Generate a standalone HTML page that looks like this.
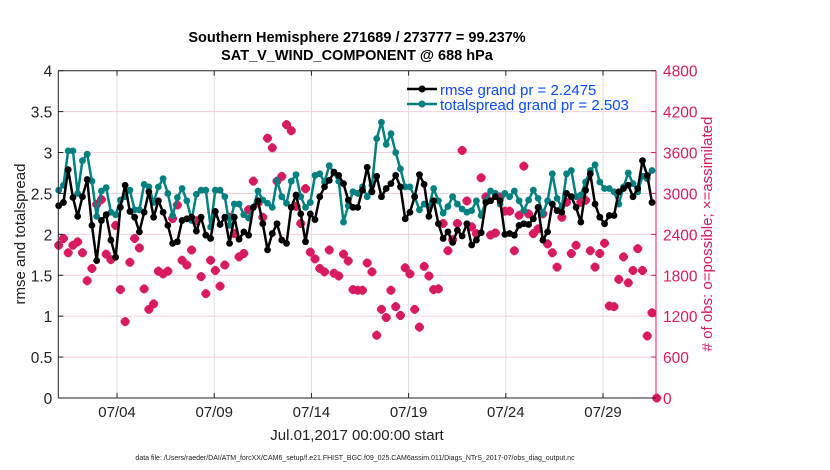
<!DOCTYPE html>
<html><head><meta charset="utf-8"><style>
body{margin:0;background:#fff;}
svg{display:block;font-family:"Liberation Sans",sans-serif;}
</style></head><body>
<svg id="chart" width="830" height="470" viewBox="0 0 830 470">
<g id="grid"></g>
<g id="series"></g>
<g id="axes"></g>
<text x="357" y="42" text-anchor="middle" font-size="14.5" font-weight="bold">Southern Hemisphere 271689 / 273777 = 99.237%</text>
<text x="357" y="60" text-anchor="middle" font-size="14.5" font-weight="bold">SAT_V_WIND_COMPONENT @ 688 hPa</text>
<text transform="translate(25,234) rotate(-90)" text-anchor="middle" font-size="15" fill="#222">rmse and totalspread</text>
<text transform="translate(712,234) rotate(-90)" text-anchor="middle" font-size="15" fill="#d81b60"># of obs: o=possible; ×=assimilated</text>
<text x="357" y="440" text-anchor="middle" font-size="15" fill="#222">Jul.01,2017 00:00:00 start</text>
<text x="355" y="460" text-anchor="middle" font-size="7" fill="#222">data file: /Users/raeder/DAI/ATM_forcXX/CAM6_setup/f.e21.FHIST_BGC.f09_025.CAM6assim.011/Diags_NTrS_2017-07/obs_diag_output.nc</text>
<g>
<g>
<line x1="407" y1="89" x2="437" y2="89" stroke="#000" stroke-width="2.5"/><circle cx="422" cy="89" r="3.5" fill="#000"/>
<text x="440" y="95" font-size="15" fill="#0a4cff">rmse grand pr = 2.2475</text></g>
<g>
<line x1="407" y1="104" x2="437" y2="104" stroke="#008080" stroke-width="2.5"/><circle cx="422" cy="104" r="3.5" fill="#008080"/>
<text x="440" y="110" font-size="15" fill="#0a4cff">totalspread grand pr = 2.503</text></g>
</g>
</svg>
<script>
const leftTicks=[0,0.5,1,1.5,2,2.5,3,3.5,4];
const rightTicks=[0,600,1200,1800,2400,3000,3600,4200,4800];
const dateTicks=["07/04","07/09","07/14","07/19","07/24","07/29"];
const dateTickDays=[3,8,13,18,23,28];
const totalspread=[2.54,2.60,3.02,3.02,2.50,2.90,2.98,2.65,2.22,2.53,2.57,2.27,2.24,2.42,2.46,2.54,2.30,2.30,2.61,2.58,2.39,2.58,2.68,2.50,2.23,2.45,2.56,2.41,2.17,2.49,2.54,2.54,
2.09,2.54,2.54,2.46,2.11,2.37,2.37,2.24,2.20,2.33,2.53,2.42,2.38,2.33,2.66,2.46,2.38,2.65,2.73,2.46,2.33,2.39,2.72,2.74,2.64,2.84,2.75,2.65,2.15,2.35,2.52,
2.50,2.58,2.46,2.60,3.17,3.37,3.10,3.23,3.00,2.80,2.58,2.58,2.46,2.30,2.37,2.34,2.56,2.41,2.26,2.34,2.46,2.37,2.31,2.27,2.29,2.41,2.23,2.41,2.53,2.50,2.37,2.50,
2.46,2.53,2.41,2.29,2.42,2.54,2.44,2.25,2.41,2.74,2.44,2.33,2.74,2.78,2.46,2.48,2.64,2.78,2.85,2.64,2.56,2.56,2.52,2.37,2.58,2.75,2.62,2.52,2.71,2.68,2.78];
const rmse=[2.35,2.39,2.79,2.45,2.22,2.46,2.67,2.11,1.68,2.17,2.24,1.93,1.72,2.33,2.60,2.28,2.21,2.03,2.27,2.52,2.21,2.41,2.27,2.11,1.89,1.91,2.17,2.19,2.21,2.04,2.21,1.99,
1.95,2.28,2.12,2.21,1.89,2.21,1.94,2.03,1.99,2.33,2.41,2.13,1.81,2.01,2.13,1.93,1.89,2.33,2.48,2.25,1.91,2.25,2.18,2.46,2.58,2.66,2.76,2.72,2.62,2.42,2.33,
2.33,2.54,2.82,2.52,2.71,2.46,2.56,2.62,2.72,2.58,2.19,2.27,2.46,2.73,2.61,2.22,2.41,2.13,1.95,2.03,1.90,2.05,1.98,2.13,1.87,1.93,2.02,2.39,2.41,2.46,2.41,2.00,
2.01,1.99,2.11,2.13,2.12,2.19,2.33,1.93,2.03,2.37,2.29,2.27,2.50,2.46,2.33,2.15,2.54,2.74,2.37,2.21,2.13,2.23,2.23,2.52,2.56,2.60,2.46,2.56,2.90,2.72,2.39];
const obsCount=[2240,2340,2130,2240,2290,2130,1720,1900,2840,2910,2110,2030,2530,1590,1120,1990,2340,2200,1600,1300,1380,1860,1820,1860,2630,2830,2020,1950,2170,2600,1780,1530,
2020,1870,1640,1950,2650,2410,2070,2120,2760,3180,2860,2650,3810,3670,3180,3250,4010,3920,2810,2560,3070,2140,2040,1900,1850,2170,1830,1790,2110,2010,1590,
1580,1580,1980,1850,920,1300,1180,1580,1340,1210,1910,1820,1300,1040,1930,1790,1590,1600,2560,2160,2320,2560,3630,2890,2510,2410,3230,2950,2390,2420,2950,2740,
2740,2160,2680,3400,2700,2410,2480,2700,2260,2130,1920,2650,2870,2120,2240,2870,2900,2160,1920,2120,2270,1350,1340,1740,2070,1690,1870,2190,1870,910,1250,0];

const NS="http://www.w3.org/2000/svg";
const PL=58.3,PR=656,PT=70.7,PB=398;
const yL=v=>PB-(v/4)*(PB-PT);
const yR=v=>PB-(v/4800)*(PB-PT);
const xDay=d=>58.7+d*19.44;
const xIdx=i=>58.7+i*(652-58.7)/(rmse.length-1);
function mk(tag,attrs,parent){const e=document.createElementNS(NS,tag);for(const k in attrs)e.setAttribute(k,attrs[k]);parent.appendChild(e);return e;}
const grid=document.getElementById('grid'),axes=document.getElementById('axes'),series=document.getElementById('series');
mk('rect',{x:PL,y:PT,width:PR-PL,height:PB-PT,fill:'#fff'},grid);
leftTicks.forEach(t=>{
  if(t>0&&t<4){const g=mk('line',{x1:PL,x2:PR,y1:yL(t),y2:yL(t),stroke:'#f3cfdc','stroke-width':1},grid);
  
  }
  mk('line',{x1:PL,x2:PL+5,y1:yL(t),y2:yL(t),stroke:'#222'},axes);
  const tx=mk('text',{x:PL-6,y:yL(t)+6,'text-anchor':'end','font-size':15.5,fill:'#222'},axes);tx.textContent=t;
  
  
});
rightTicks.forEach(t=>{
  mk('line',{x1:PR-5,x2:PR,y1:yR(t),y2:yR(t),stroke:'#d81b60'},axes);
  const tx=mk('text',{x:PR+7,y:yR(t)+6,'font-size':15.5,fill:'#d81b60'},axes);tx.textContent=t;
  
  
});
dateTicks.forEach((lab,k)=>{
  const x=xDay(dateTickDays[k]);
  const g=mk('line',{x1:x,x2:x,y1:PT,y2:PB,stroke:'#dcdcdc'},grid);
  
  
  mk('line',{x1:x,x2:x,y1:PB,y2:PB-5,stroke:'#222'},axes);
  mk('line',{x1:x,x2:x,y1:PT,y2:PT+5,stroke:'#222'},axes);
  const tx=mk('text',{x:x,y:417,'text-anchor':'middle','font-size':15,fill:'#222'},axes);tx.textContent=lab;
  
  
});
mk('line',{x1:PL,x2:PR,y1:PT,y2:PT,stroke:'#222'},axes);
mk('line',{x1:PL,x2:PR,y1:PB,y2:PB,stroke:'#222'},axes);
mk('line',{x1:PL,x2:PL,y1:PT,y2:PB,stroke:'#222'},axes);
mk('line',{x1:PR,x2:PR,y1:PT,y2:PB,stroke:'#d81b60'},axes);

const og=mk('g',{},series);


obsCount.forEach((v,i)=>{
  const x=xIdx(i),y=yR(v);
  const p=mk('path',{d:`M${x-4.5},${y}H${x+4.5}M${x},${y-4.5}V${y+4.5}M${x-3},${y-3}L${x+3},${y+3}M${x-3},${y+3}L${x+3},${y-3}`,stroke:'#d81b60','stroke-width':3},og);
  
  
});
function line(arr,color,name){
  const g=mk('g',{},series);
  
  
  const pl=mk('polyline',{points:arr.map((v,i)=>xIdx(i)+','+yL(v)).join(' '),fill:'none',stroke:color,'stroke-width':2.5,'stroke-linejoin':'round'},g);
  
  
  arr.forEach((v,i)=>{
    const c=mk('circle',{cx:xIdx(i),cy:yL(v),r:3.4,fill:color},g);
    
    
  });
}
line(totalspread,'#008080','totalspread-series');
line(rmse,'#000000','rmse-series');
</script>
</body></html>
